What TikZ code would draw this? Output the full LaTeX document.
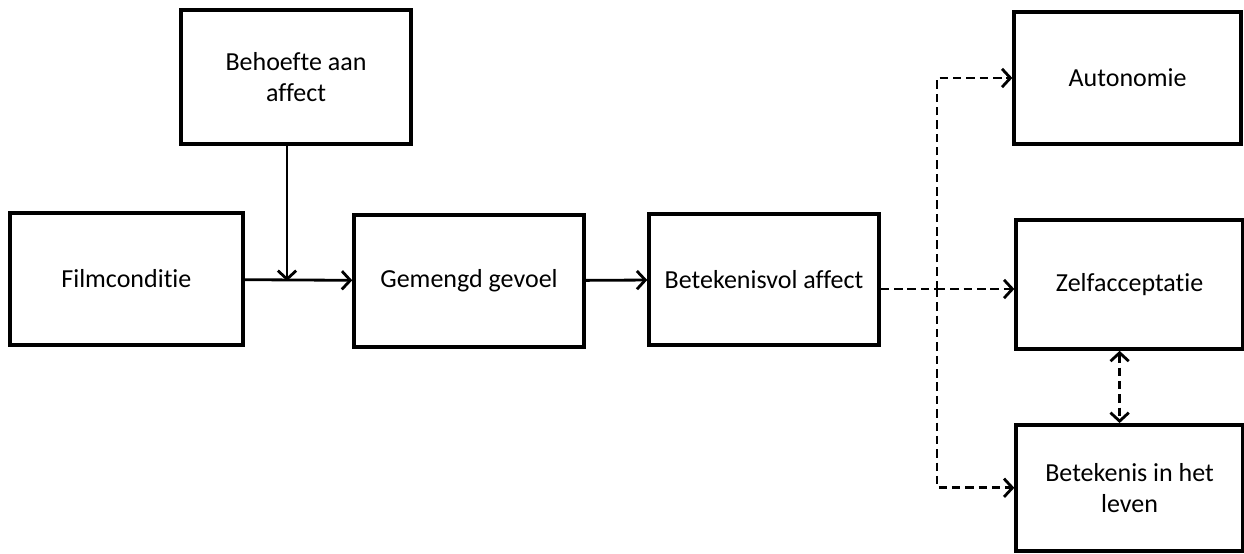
\documentclass[tikz,border=0pt]{standalone}
\usepackage{fontspec}
\setmainfont{Carlito}[Ligatures=NoCommon]
\usepackage{tikz}
\usetikzlibrary{arrows.meta,positioning,calc}

\begin{document}
\begin{tikzpicture}[
    box/.style={draw=black, line width=2.5pt, minimum width=5.75cm, minimum height=3.3cm, align=center, font=\fontsize{18.5}{22}\selectfont},
    kop/.tip={Straight Barb[length=6pt,width=13pt]},
    pijl/.style={line width=2pt, -kop},
    stip/.style={pijl, dash pattern=on 6pt off 3.5pt}
  ]
  \useasboundingbox (0,0) rectangle (31.1,13.825);

  \node (Beh) [box, minimum height=3.35cm] at (7.4,11.9) {Behoefte aan\\affect};
  \node (Film) [box, minimum width=5.825cm] at (3.16,6.85) {Filmconditie};
  \node (Gem) [box] at (11.725,6.8) {Gemengd gevoel};
  \node (Bet) [box, minimum height=3.275cm] at (19.1,6.84) {Betekenisvol affect};
  \node (Aut) [box, minimum width=5.675cm] at (28.19,11.875) {Autonomie};
  \node (Zelf) [box, minimum width=5.675cm, minimum height=3.225cm] at (28.24,6.71) {Zelfacceptatie};
  \node (Lev) [box, minimum width=5.675cm, minimum height=3.15cm] at (28.24,1.63) {Betekenis in het\\leven};

  % samenkomst en splitsing
  \coordinate (join) at (7.175,6.8);
  \coordinate (split) at (23.425,6.6);

  \draw [pijl] (Film) -- (Gem);
  \draw [pijl] (join |- Beh.south) -- (join);
  \draw [pijl] (Gem) -- (Bet);

  \draw [line width=2pt, dash pattern=on 6pt off 3.5pt] (Bet.east |- split) -- (split);
  \draw [stip] (split) -- (Zelf.west |- split);
  \draw [stip] (split) |- (Aut.west);
  \draw [stip] (split) |- (Lev.west);
  \draw [stip, kop-kop] ($(Zelf.south)+(-0.25,0)$) -- ($(Lev.north)+(-0.25,0)$);
\end{tikzpicture}
\end{document}
